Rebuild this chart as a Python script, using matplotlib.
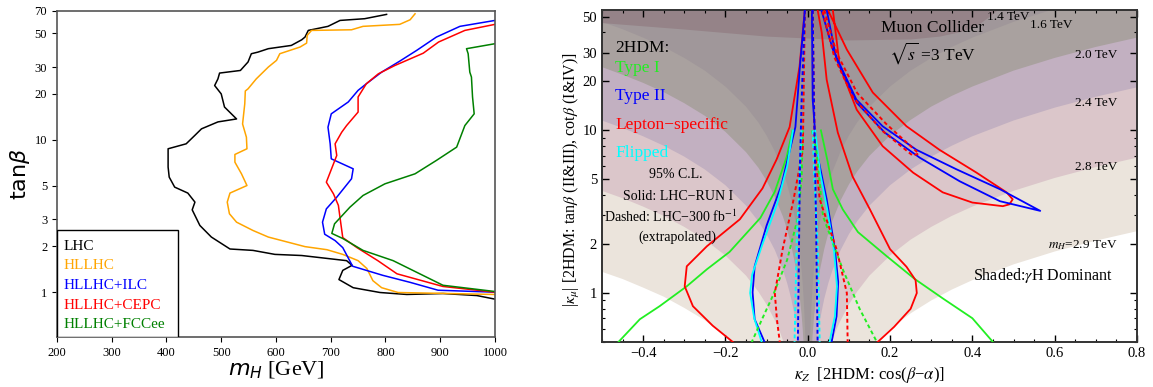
import matplotlib
matplotlib.use("Agg")
import matplotlib.pyplot as plt
from matplotlib.ticker import FixedLocator, NullLocator, NullFormatter, LogLocator, MultipleLocator, FixedFormatter
from matplotlib.patches import Rectangle

plt.rcParams['font.family'] = ['Liberation Serif', 'DejaVu Serif']

# ---------------- left panel: tan(beta) vs m_H reach ----------------
lhc_m = [802, 762, 717, 695, 659, 653, 647, 628, 586, 567, 555, 549, 535, 497, 494, 488, 500, 506, 528, 494,
         464, 452, 436, 403, 403, 405, 415, 439, 452, 447, 461, 482, 516, 558, 598, 647, 729, 739, 722, 715,
         741, 790, 839, 905, 967, 1000]
lhc_tb = [66.5, 62.3, 60.7, 55.5, 52.2, 47.2, 45.3, 41.6, 39.6, 37.6, 36.7, 32.4, 28.5, 27.4, 25.1, 22.7, 20.0, 16.4, 13.7, 13.1,
          11.8, 10.7, 9.41, 8.73, 6.62, 5.69, 4.89, 4.47, 3.90, 3.47, 2.74, 2.30, 1.92, 1.88, 1.77, 1.74, 1.61, 1.50, 1.39, 1.21,
          1.07, 0.995, 0.966, 0.98, 0.95, 0.90]
hl_m = [854, 845, 826, 759, 738, 665, 657, 656, 644, 607, 601, 586, 564, 549, 544, 543, 539, 546, 547, 525,
        525, 537, 547, 516, 511, 515, 528, 558, 586, 653, 693, 722, 750, 766, 777, 793, 823, 1000]
hl_tb = [67.1, 61.3, 57.2, 55.5, 52.7, 52.2, 48.4, 43.1, 40.6, 36.7, 33.2, 30.0, 25.1, 21.6, 20.9, 17.2, 12.7, 10.4, 8.73, 8.01,
         7.13, 5.98, 5.01, 4.47, 3.90, 3.27, 2.88, 2.54, 2.30, 1.99, 1.90, 1.77, 1.61, 1.43, 1.19, 1.07, 0.995, 0.966]
ilc_m = [1000, 936, 893, 857, 826, 793, 765, 750, 732, 701, 695, 699, 701, 741, 738, 711, 692, 685, 689, 708,
         722, 740, 795, 845, 896, 1000]
ilc_tb = [60.7, 55.5, 47.2, 38.6, 32.8, 27.8, 23.3, 21.1, 17.7, 14.8, 12.1, 9.41, 7.50, 6.45, 5.55, 4.20, 3.52, 2.88, 2.40, 2.18,
          1.96, 1.48, 1.29, 1.16, 1.03, 1.0]
cepc_m = [1000, 945, 897, 869, 817, 787, 765, 750, 750, 729, 720, 708, 711, 692, 705, 714, 717, 722, 748, 786,
          821, 905, 1000]
cepc_tb = [57.2, 52.2, 43.8, 37.0, 30.7, 27.1, 23.3, 19.1, 15.2, 12.4, 11.2, 9.41, 7.89, 5.27, 4.42, 3.71, 3.08, 2.28, 1.96, 1.61,
           1.32, 1.09, 1.0]
fcc_m = [1000, 948, 951, 954, 957, 959, 962, 945, 930, 893, 854, 799, 759, 735, 707, 702, 722, 759, 814, 905, 1000]
fcc_tb = [42.7, 39.6, 36.7, 27.8, 25.8, 19.1, 14.8, 12.4, 8.95, 7.32, 5.98, 5.14, 4.31, 3.61, 2.81, 2.43, 2.25, 1.88, 1.61, 1.11, 1.01]

left_names = ["LHC", "HLLHC", "HLLHC+ILC", "HLLHC+CEPC", "HLLHC+FCCee"]
left_colors = ["black", "orange", "blue", "red", "green"]
left_ticks = [1, 2, 3, 5, 10, 20, 30, 50, 70]

# ---------------- right panel: kappa_mu vs kappa_Z ----------------
# shaded gamma-H dominant regions (lower boundaries), one per m_H
b29_x = [-0.5, -0.45, -0.4, -0.35, -0.3, -0.25, -0.2, -0.15, -0.1, 0,
         0.1, 0.15, 0.2, 0.25, 0.3, 0.35, 0.4, 0.5, 0.6, 0.7, 0.8]
b29_y = [1.35, 1.22, 1.08, 0.95, 0.81, 0.68, 0.54, 0.405, 0.27, 0.01,
         0.3, 0.45, 0.6, 0.75, 0.9, 1.05, 1.2, 1.5, 1.8, 2.1, 2.4]
b28_x = [-0.5, -0.45, -0.4, -0.35, -0.3, -0.25, -0.2, -0.15, -0.12, -0.1, -0.08, -0.07, -0.06, -0.05, -0.04, -0.03, 0,
         0.03, 0.04, 0.05, 0.06, 0.07, 0.08, 0.1, 0.12, 0.15, 0.2, 0.25, 0.3, 0.35, 0.4, 0.5, 0.6, 0.7, 0.8]
b28_y = [4.25, 3.83, 3.4, 2.98, 2.55, 2.13, 1.7, 1.28, 1.02, 0.85, 0.68, 0.6, 0.51, 0.43, 0.34, 0.26, 0.01,
         0.26, 0.34, 0.43, 0.51, 0.6, 0.68, 0.85, 1.02, 1.28, 1.7, 2.13, 2.55, 2.98, 3.4, 4.25, 5.1, 5.95, 6.8]
b24_x = [-0.5, -0.45, -0.4, -0.35, -0.3, -0.25, -0.2, -0.15, -0.12, -0.1, -0.08, -0.06, -0.05, -0.04, -0.03, -0.025,
         -0.02, -0.015, 0, 0.015, 0.02, 0.025, 0.03, 0.04, 0.05, 0.06, 0.08, 0.1, 0.12, 0.15, 0.2, 0.25, 0.3, 0.35,
         0.4, 0.5, 0.6, 0.7, 0.8]
b24_y = [11.5, 10.35, 9.2, 8.05, 6.9, 5.75, 4.6, 3.45, 2.76, 2.3, 1.84, 1.38, 1.15, 0.92, 0.69, 0.58,
         0.46, 0.35, 0.01, 0.35, 0.46, 0.58, 0.69, 0.92, 1.15, 1.38, 1.84, 2.3, 2.76, 3.45, 4.6, 5.75, 6.9, 8.05,
         9.2, 11.5, 13.8, 16.1, 18.4]
b20_x = [-0.5, -0.45, -0.4, -0.35, -0.3, -0.25, -0.2, -0.15, -0.12, -0.1, -0.08, -0.06, -0.05, -0.04, -0.03, -0.025,
         -0.02, -0.015, -0.012, -0.009, -0.007, 0,
         0.007, 0.009, 0.012, 0.015, 0.02, 0.025, 0.03, 0.04, 0.05, 0.06, 0.08, 0.1, 0.12, 0.15, 0.2, 0.25, 0.3, 0.35,
         0.4, 0.5, 0.6, 0.7, 0.8]
b20_y = [24.5, 22.0, 19.6, 17.2, 14.7, 12.3, 9.8, 7.35, 5.9, 4.9, 3.9, 2.94, 2.45, 1.96, 1.47, 1.23,
         0.98, 0.74, 0.59, 0.44, 0.34, 0.01,
         0.33, 0.42, 0.56, 0.70, 0.93, 1.16, 1.4, 1.86, 2.33, 2.79, 3.72, 4.65, 5.58, 6.98, 9.3, 11.6, 14.0, 16.3,
         18.6, 23.3, 27.9, 32.6, 37.2]
b16_x = [-0.5, -0.45, -0.4, -0.35, -0.3, -0.25, -0.2, -0.15, -0.12, -0.1, -0.08, -0.06, -0.05, -0.04, -0.03, -0.025,
         -0.02, -0.015, -0.012, -0.009, -0.007, -0.005, -0.004, 0,
         0.004, 0.005, 0.007, 0.009, 0.012, 0.015, 0.02, 0.025, 0.03, 0.04, 0.05, 0.06, 0.08, 0.1, 0.12, 0.15, 0.2,
         0.25, 0.3, 0.35, 0.4, 0.5, 0.6, 0.7, 0.8]
b16_y = [46.5, 41.9, 37.2, 32.6, 27.9, 23.3, 18.6, 14.0, 11.2, 9.3, 7.44, 5.58, 4.65, 3.72, 2.79, 2.33,
         1.86, 1.4, 1.12, 0.84, 0.65, 0.47, 0.37, 0.01,
         0.37, 0.47, 0.65, 0.84, 1.12, 1.4, 1.86, 2.33, 2.79, 3.72, 4.65, 5.58, 7.44, 9.3, 11.2, 14.0, 18.6,
         23.3, 27.9, 32.6, 37.2, 46.5, 55.8, 65.1, 74.4]
b14_x = [-0.5, -0.3, -0.1, 0.1, 0.25, 0.32, 0.37, 0.4, 0.42, 0.44, 0.46, 0.48]
b14_y = [46.0, 42.0, 38.0, 36.0, 36.5, 38.0, 40.5, 43.0, 46.0, 50.0, 55.0, 62.0]
band_colors = ["#ebe4dc", "#dbc6ca", "#c2b0c1", "#a9a19f", "#a0979a", "#958388"]
band_labels = ["$m_H$=2.9 TeV", "2.8 TeV", "2.4 TeV", "2.0 TeV", "1.6 TeV", "1.4 TeV"]

# Type I (green)
t1_lx = [-0.037, -0.051, -0.08, -0.115, -0.19, -0.245, -0.294, -0.36, -0.408, -0.46]
t1_ly = [10, 6.9, 4.2, 2.9, 1.79, 1.40, 1.10, 0.83, 0.69, 0.5]
t1_rx = [0.032, 0.048, 0.061, 0.085, 0.122, 0.19, 0.26, 0.33, 0.4, 0.45]
t1_ry = [10, 6.5, 4.35, 3.27, 2.37, 1.7, 1.22, 0.92, 0.7, 0.5]
# Type II (blue)
t2_lx = [-0.007, -0.019, -0.03, -0.064, -0.10, -0.129, -0.134, -0.129, -0.105]
t2_ly = [55, 24.7, 10.5, 4.6, 2.6, 1.46, 1.01, 0.69, 0.5]
t2_rx = [0.01, 0.012, 0.021, 0.046, 0.066, 0.074, 0.07, 0.058]
t2_ry = [55, 15.5, 7.6, 3.77, 1.86, 1.17, 0.72, 0.5]
t2_tx = [0.033, 0.061, 0.118, 0.182, 0.264, 0.361, 0.467, 0.565, 0.467, 0.369, 0.272, 0.187, 0.119, 0.07, 0.046]
t2_ty = [55, 31.4, 15.5, 10.6, 7.6, 5.77, 4.35, 3.2, 3.67, 4.87, 6.8, 9.7, 14.8, 27.3, 55]
# Lepton-specific (red)
ls_lx = [-0.007, -0.02, -0.044, -0.076, -0.11, -0.165, -0.245, -0.294, -0.299, -0.279, -0.231, -0.182]
ls_ly = [55, 24.7, 10.5, 6.6, 4.4, 2.84, 1.94, 1.46, 1.10, 0.83, 0.63, 0.5]
ls_rx = [0.024, 0.034, 0.046, 0.073, 0.109, 0.151, 0.2, 0.24, 0.262, 0.265, 0.25, 0.21, 0.17]
ls_ry = [55, 40, 20.5, 9.7, 5.2, 3.27, 1.86, 1.45, 1.2, 1.0, 0.8, 0.62, 0.5]
ls_tx = [0.049, 0.095, 0.158, 0.24, 0.32, 0.41, 0.483, 0.498, 0.49, 0.474, 0.40, 0.328, 0.256, 0.182, 0.119, 0.078, 0.061]
ls_ty = [55, 31.4, 17.1, 10.6, 7.6, 5.5, 4.16, 3.77, 3.51, 3.42, 3.6, 4.16, 5.5, 8.0, 13.4, 24.7, 55]
# Flipped (cyan)
fl_lx = [-0.036, -0.05, -0.075, -0.11, -0.135, -0.14, -0.13, -0.112]
fl_ly = [10, 6, 3.5, 2.0, 1.3, 1.0, 0.7, 0.5]
fl_rx = [0.018, 0.03, 0.048, 0.064, 0.071, 0.066, 0.053]
fl_ry = [10, 5.5, 3.2, 1.8, 1.1, 0.72, 0.5]

# dashed: LHC-300 extrapolation
ls300_lx = [-0.007, -0.012, -0.035, -0.061, -0.08, -0.075, -0.068]
ls300_ly = [55, 7.6, 3.7, 1.86, 1.0, 0.69, 0.5]
ls300_rx = [0.012, 0.017, 0.029, 0.07, 0.095, 0.097]
ls300_ry = [55, 7.6, 3.77, 1.86, 1.0, 0.5]
ls300_tx = [0.04, 0.07, 0.12, 0.19, 0.27, 0.255, 0.18, 0.11, 0.065, 0.035]
ls300_ty = [55, 30, 17, 11, 7.2, 7.0, 10, 16, 28, 55]
t1300_lx = [-0.012, -0.015, -0.025, -0.05, -0.085, -0.11, -0.136]
t1300_ly = [10, 5, 2.84, 1.6, 0.96, 0.7, 0.5]
t1300_rx = [0.01, 0.021, 0.037, 0.085, 0.126, 0.168]
t1300_ry = [10, 7.6, 2.97, 1.4, 0.8, 0.5]
t2300_lx = [-0.007, -0.015, -0.019, -0.024]
t2300_ly = [55, 15, 6, 0.5]
t2300_rx = [0.012, 0.015, 0.02, 0.024]
t2300_ry = [55, 15, 3, 0.5]
fl300_lx = [-0.015, -0.02, -0.027, -0.032]
fl300_ly = [10, 5, 2, 0.5]
fl300_rx = [0.012, 0.016, 0.024, 0.029]
fl300_ry = [10, 5, 2, 0.5]

right_yticks = [1, 2, 5, 10, 20, 30, 50]

fig = plt.figure(figsize=(11.53, 3.87), dpi=100)

# ======== left ========
ax = fig.add_axes([0.0494, 0.1292, 0.3799, 0.8424])
curves = [(lhc_m, lhc_tb), (hl_m, hl_tb), (ilc_m, ilc_tb), (cepc_m, cepc_tb), (fcc_m, fcc_tb)]
for (m, tb), c in zip(curves, left_colors):
    ax.plot(m, tb, color=c, lw=1.1)
ax.set_yscale("log")
ax.set_xlim(200, 1000)
ax.set_ylim(0.508, 70)
ax.yaxis.set_major_locator(FixedLocator(left_ticks))
ax.yaxis.set_major_formatter(FixedFormatter([str(t) for t in left_ticks]))
ax.yaxis.set_minor_locator(NullLocator())
ax.xaxis.set_major_locator(MultipleLocator(100))
ax.tick_params(labelsize=9, length=3.5)
for s in ax.spines.values():
    s.set_color("#555555")
    s.set_linewidth(1.2)
ax.set_xlabel("$m_H$ [GeV]", fontsize=16)
ax.xaxis.set_label_coords(0.5, -0.101)
ax.xaxis.label.set_verticalalignment("center")
ax.set_ylabel(r"tan$\beta$", fontsize=16, family="DejaVu Sans")
ax.yaxis.set_label_coords(-0.085, 0.5)
ax.yaxis.label.set_verticalalignment("center")

ax.add_patch(Rectangle((0, 0), 0.276, 0.328, transform=ax.transAxes, facecolor="white",
                       edgecolor="black", lw=1.0, zorder=5))
for i, (name, c) in enumerate(zip(left_names, left_colors)):
    ax.text(0.014, 0.279 - i * 0.0605, name, color=c, fontsize=11, transform=ax.transAxes,
            va="center", ha="left", zorder=6)

# ======== right ========
bx = fig.add_axes([0.5221, 0.1163, 0.464, 0.8579])
bands = [(b29_x, b29_y), (b28_x, b28_y), (b24_x, b24_y), (b20_x, b20_y), (b16_x, b16_y), (b14_x, b14_y)]
for (xs, ys), col in zip(bands, band_colors):
    bx.fill_between(xs, ys, 200, color=col, lw=0, zorder=1)

solid = [(t1_lx, t1_ly, "#22ee22"), (t1_rx, t1_ry, "#22ee22"),
         (ls_lx, ls_ly, "red"), (ls_rx, ls_ry, "red"), (ls_tx, ls_ty, "red"),
         (t2_lx, t2_ly, "blue"), (t2_rx, t2_ry, "blue"), (t2_tx, t2_ty, "blue"),
         (fl_lx, fl_ly, "cyan"), (fl_rx, fl_ry, "cyan")]
for xs, ys, c in solid:
    bx.plot(xs, ys, color=c, lw=1.3, zorder=3)
dashed = [(t1300_lx, t1300_ly, "#22ee22"), (t1300_rx, t1300_ry, "#22ee22"),
          (ls300_lx, ls300_ly, "red"), (ls300_rx, ls300_ry, "red"), (ls300_tx, ls300_ty, "red"),
          (fl300_lx, fl300_ly, "cyan"), (fl300_rx, fl300_ry, "cyan"),
          (t2300_lx, t2300_ly, "blue"), (t2300_rx, t2300_ry, "blue")]
for xs, ys, c in dashed:
    bx.plot(xs, ys, color=c, lw=1.4, ls=(0, (2, 1.5)), zorder=4)

bx.set_yscale("log")
bx.set_xlim(-0.5, 0.8)
bx.set_ylim(0.5, 55)
bx.yaxis.set_major_locator(FixedLocator(right_yticks))
bx.yaxis.set_major_formatter(FixedFormatter([str(t) for t in right_yticks]))
bx.yaxis.set_minor_locator(LogLocator(base=10, subs=range(1, 10)))
bx.yaxis.set_minor_formatter(NullFormatter())
bx.xaxis.set_major_locator(MultipleLocator(0.2))
bx.xaxis.set_minor_locator(MultipleLocator(0.05))
bx.tick_params(which="both", direction="in", top=True, right=True, labelsize=10.5)
bx.tick_params(which="major", length=5, width=1.0)
bx.tick_params(which="minor", length=2.5, width=0.8)
for s in bx.spines.values():
    s.set_color("#333333")
    s.set_linewidth(1.4)
bx.set_xlabel(r"$\kappa_Z$  [2HDM: cos($\beta$−$\alpha$)]", fontsize=12, math_fontfamily="stix")
bx.xaxis.set_label_coords(0.5, -0.099)
bx.xaxis.label.set_verticalalignment("center")
bx.set_ylabel(r"|$\kappa_\mu$| [2HDM: tan$\beta$ (II&III), cot$\beta$ (I&IV)]", fontsize=11.5,
              math_fontfamily="stix")
bx.yaxis.set_label_coords(-0.056, 0.49)
bx.yaxis.label.set_verticalalignment("center")

T = bx.transAxes
bx.text(0.617, 0.946, "Muon Collider", fontsize=12.5, ha="center", va="center", transform=T)
bx.text(0.617, 0.87, r"$\sqrt{s}$ =3 TeV", fontsize=12.5, ha="center", va="center", transform=T,
        math_fontfamily="stix")
label_pos = [(0.964, 0.292), (0.964, 0.527), (0.964, 0.72), (0.964, 0.864), (0.88, 0.955), (0.80, 0.979)]
for (lx, ly), lab in zip(label_pos, band_labels):
    bx.text(lx, ly, lab, fontsize=9.5, ha="right", va="center", transform=T, math_fontfamily="stix", zorder=5)
bx.text(0.955, 0.2, r"Shaded:$\gamma$H Dominant", fontsize=11.5, ha="right", va="center", transform=T,
        math_fontfamily="stix", zorder=5)
bx.text(0.025, 0.886, "2HDM:", fontsize=12.5, ha="left", va="center", transform=T)
for txt, c, ty in [("Type I", "#22ee22", 0.825), ("Type II", "blue", 0.74),
                   ("Lepton−specific", "red", 0.654), ("Flipped", "cyan", 0.57)]:
    bx.text(0.025, ty, txt, color=c, fontsize=12.5, ha="left", va="center", transform=T)
bx.text(0.138, 0.503, "95% C.L.", fontsize=10, ha="center", va="center", transform=T)
bx.text(0.142, 0.437, "Solid: LHC−RUN I", fontsize=10, ha="center", va="center", transform=T)
bx.text(0.128, 0.377, "Dashed: LHC−300 fb$^{-1}$", fontsize=10, ha="center", va="center", transform=T,
        math_fontfamily="stix")
bx.text(0.14, 0.316, "(extrapolated)", fontsize=10, ha="center", va="center", transform=T)

fig.savefig("out.png", dpi=100)
